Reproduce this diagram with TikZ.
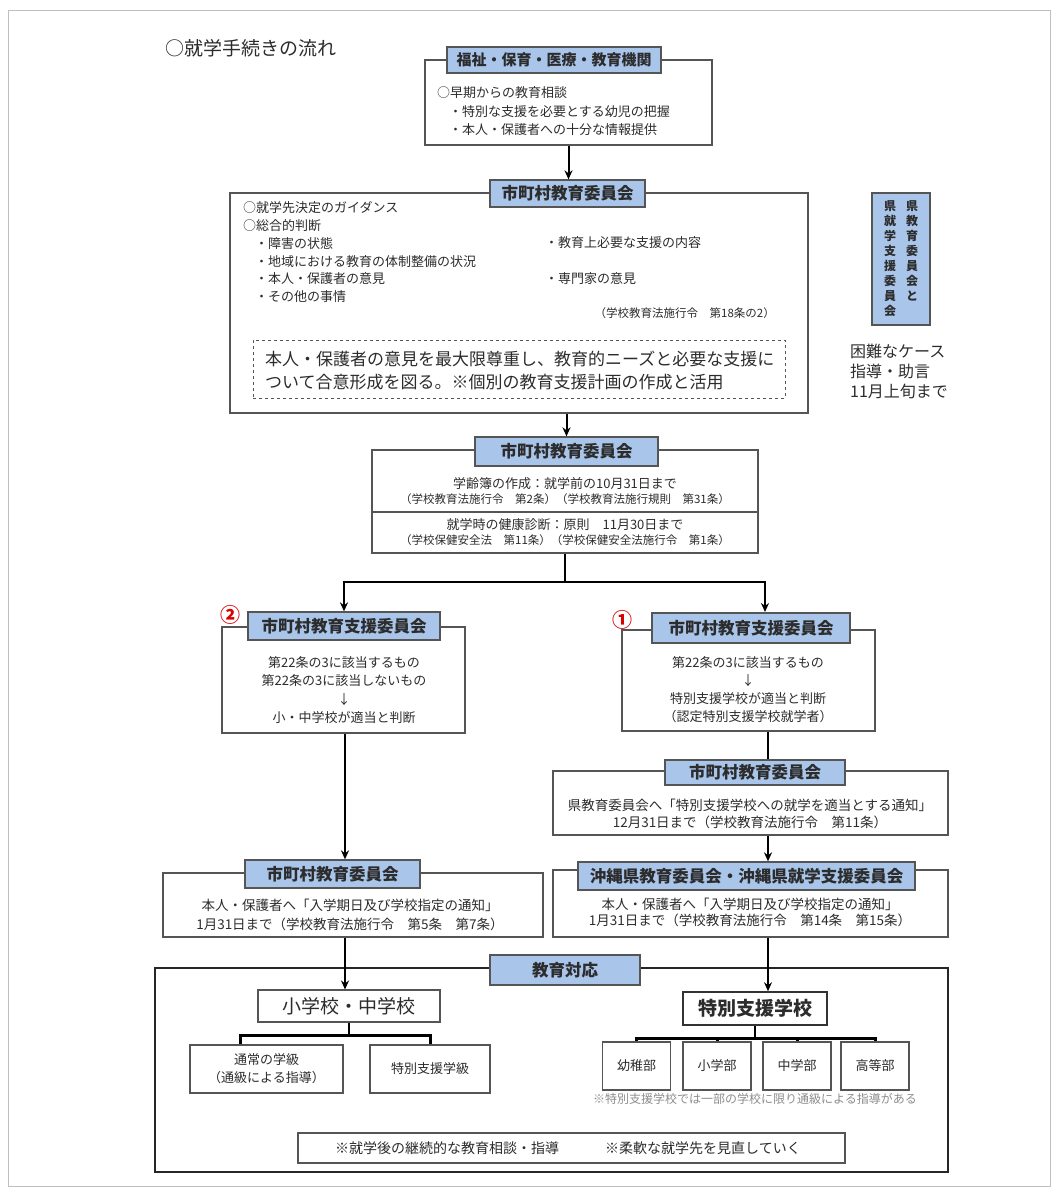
\documentclass[tikz,border=0pt]{standalone}
\usepackage{fontspec}
\setmainfont{Noto Sans CJK JP}
\usetikzlibrary{positioning,calc,arrows.meta}
\tikzset{>=stealth}
\definecolor{hdblue}{HTML}{A9C5EA}
\definecolor{ink}{HTML}{2C2C2C}
\definecolor{rim}{HTML}{555555}
\newcommand\jfs[2]{\fontsize{#1}{#2}\selectfont}
\tikzset{
  panel/.style={draw=rim,line width=1.1pt,fill=white,inner sep=0pt},
  hdr/.style={draw=rim,line width=1.3pt,fill=hdblue,inner sep=0pt,text=ink,font=\bfseries\jfs{16.5}{18}},
  unit/.style={draw=rim,line width=1.1pt,fill=white,inner sep=0pt,text=ink,align=center,font=\jfs{13}{18}},
  txt/.style={inner sep=0pt,text=ink,font=\jfs{13}{17}},
  law/.style={inner sep=0pt,text=ink,font=\jfs{11.5}{13}},
  arr/.style={-{Stealth[length=9pt,width=8pt]},line width=2pt},
  link/.style={line width=2pt},
  num/.style={inner sep=0pt,text=red!85!black,font=\bfseries\jfs{20}{20}},
}

\begin{document}
\begin{tikzpicture}[x=1pt,y=-1pt]
\useasboundingbox (0,0) rectangle (1057,1192);
\draw[black!25,line width=1pt] (8,10) rectangle (1050,1186);
\coordinate (colL) at (345,0);
\coordinate (colR) at (768,0);

% title
\node[txt,font=\jfs{19}{21},anchor=west] (ttl) at (165,48) {○就学手続きの流れ};

% early consultation
\node[panel,minimum width=287pt,minimum height=85pt] (p1) at (568.5,102.5) {};
\node[hdr,font=\bfseries\jfs{15}{17},minimum width=214pt,minimum height=26pt] (h1) at (554,60) {福祉・保育・医療・教育機関};
\node[txt,align=left,anchor=north west,font=\jfs{13}{18.5}] (t1) at (437,86.5)
  {○早期からの教育相談\\\hspace*{12pt}・特別な支援を必要とする幼児の把握\\\hspace*{12pt}・本人・保護者への十分な情報提供};

% guidance
\node[panel,minimum width=578pt,minimum height=220pt] (p2) at (519,303) {};
\node[hdr,minimum width=155pt,minimum height=27pt] (h2) at (567.5,193.5) {市町村教育委員会};
\node[txt,align=left,anchor=north west,font=\jfs{13}{17.8}] (t2a) at (243,201.5)
  {○就学先決定のガイダンス\\○総合的判断\\\hspace*{12pt}・障害の状態\\\hspace*{12pt}・地域における教育の体制整備の状況\\\hspace*{12pt}・本人・保護者の意見\\\hspace*{12pt}・その他の事情};
\node[txt,anchor=west] (t2b) at (545,243) {・教育上必要な支援の内容};
\node[txt,anchor=west] (t2c) at (545,279) {・専門家の意見};
\node[law,anchor=east] (t2d) at (775,313) {（学校教育法施行令　第18条の2）};
\node[panel,dashed,line width=1pt,minimum width=532pt,minimum height=58pt] (agree) at (519,369) {};
\node[txt,align=left,anchor=north west,font=\jfs{17}{23}] (t2e) at (265,350.5)
  {本人・保護者の意見を最大限尊重し、教育的ニーズと必要な支援に\\ついて合意形成を図る。※個別の教育支援計画の作成と活用};

% prefecture
\node[hdr,minimum width=58pt,minimum height=132pt] (pref) at (901,259) {};
\node[txt,align=center,anchor=north,font=\bfseries\jfs{12}{15}] (pref1) at (912,200) {県\\教\\育\\委\\員\\会\\と};
\node[txt,align=center,anchor=north,font=\bfseries\jfs{12}{15}] (pref2) at (890,200) {県\\就\\学\\支\\援\\委\\員\\会};
\node[txt,align=left,anchor=north west,font=\jfs{16}{20}] (hard) at (850,344) {困難なケース\\指導・助言\\11月上旬まで};

\draw[arr] (p1.south) -- (p1.south |- h2.north);

% school register
\node[panel,minimum width=386pt,minimum height=103pt] (p3) at (565,501.5) {};
\coordinate (cut) at (0,512);
\draw[rim,line width=1.1pt] (p3.west |- cut) -- (p3.east |- cut);
\node[hdr,minimum width=183pt,minimum height=29pt] (h3) at (566.5,451.5) {市町村教育委員会};
\node[txt] (t3a) at (565,484) {学齢簿の作成：就学前の10月31日まで};
\node[law] (t3b) at (565,499) {（学校教育法施行令　第2条）（学校教育法施行規則　第31条）};
\node[txt] (t3c) at (565,525) {就学時の健康診断：原則　11月30日まで};
\node[law] (t3d) at (565,540) {（学校保健安全法　第11条）（学校保健安全法施行令　第1条）};

\draw[arr] (h3.north |- p2.south) -- (h3.north);

% support committees
\node[panel,minimum width=243pt,minimum height=106pt] (p4l) at (343.5,680) {};
\node[hdr,minimum width=192pt,minimum height=28pt] (h4l) at (344,626) {市町村教育支援委員会};
\node[num] (n2) at (230,615) {②};
\node[txt,align=center,font=\jfs{13}{18.3}] (t4l) at (344,690)
  {第22条の3に該当するもの\\第22条の3に該当しないもの\\↓\\小・中学校が適当と判断};

\node[panel,minimum width=253pt,minimum height=101pt] (p4r) at (748.5,680.5) {};
\node[hdr,minimum width=198pt,minimum height=30pt] (h4r) at (751,628) {市町村教育支援委員会};
\node[num] (n1) at (622,620) {①};
\node[txt,align=center,font=\jfs{13}{18}] (t4r) at (748,690)
  {第22条の3に該当するもの\\↓\\特別支援学校が適当と判断\\（認定特別支援学校就学者）};

\coordinate (split) at (565,582);
\coordinate (inR) at (765,612);
\draw[link] (p3.south) -- (split);
\draw[arr] (split) -| (h4l.north);
\draw[arr] (split) -| (inR);

% notices (right)
\node[panel,minimum width=395pt,minimum height=64pt] (p5r) at (750.5,803) {};
\node[hdr,minimum width=180pt,minimum height=25pt] (h5r) at (755,772.5) {市町村教育委員会};
\node[txt,align=center,font=\jfs{13.5}{17}] (t5r) at (750,813.5)
  {県教育委員会へ「特別支援学校への就学を適当とする通知」\\12月31日まで（学校教育法施行令　第11条）};
\draw[link] (p4r.south -| colR) -- (h5r.north -| colR);

\node[panel,minimum width=395pt,minimum height=67pt] (p6r) at (750.5,903.5) {};
\node[hdr,minimum width=337pt,minimum height=28pt] (h6r) at (746.5,876) {沖縄県教育委員会・沖縄県就学支援委員会};
\node[txt,align=center,font=\jfs{13.5}{16.5}] (t6r) at (750,912.5)
  {本人・保護者へ「入学期日及び学校指定の通知」\\1月31日まで（学校教育法施行令　第14条　第15条）};
\draw[arr] (p5r.south -| colR) -- (h6r.north -| colR);

% notices (left)
\node[panel,minimum width=380pt,minimum height=64pt] (p6l) at (353,905) {};
\node[hdr,minimum width=175pt,minimum height=28pt] (h6l) at (332.5,874) {市町村教育委員会};
\node[txt,align=center,font=\jfs{13.5}{19}] (t6l) at (350,914.5)
  {本人・保護者へ「入学期日及び学校指定の通知」\\1月31日まで（学校教育法施行令　第5条　第7条）};
\draw[arr] (p4l.south -| colL) -- (h6l.north -| colL);

% education
\node[draw=black!85,line width=1.8pt,inner sep=0pt,minimum width=793pt,minimum height=204pt] (p7) at (551.5,1070) {};
\node[hdr,minimum width=150pt,minimum height=30pt] (h7) at (565,970) {教育対応};

\node[unit,font=\jfs{19}{20},minimum width=182pt,minimum height=32pt] (sch1) at (349,1006) {小学校・中学校};
\node[unit,minimum width=153pt,minimum height=48pt] (cls1) at (266.5,1069) {通常の学級\\（通級による指導）};
\node[unit,minimum width=120pt,minimum height=48pt] (cls2) at (430,1069) {特別支援学級};
\coordinate (forkL) at (349,1035);
\draw[link] (sch1.south) -- (forkL);
\draw[link,line width=3pt] ($(cls1.north)+(-26,0)$) |- (forkL) -| (cls2.north);

\node[unit,draw=black!80,line width=1.6pt,font=\bfseries\jfs{19}{20},minimum width=144pt,minimum height=33pt] (sch2) at (755,1008.5) {特別支援学校};
\foreach \n/\x/\t in {d1/636.5/幼稚部,d2/717/小学部,d3/797/中学部,d4/875/高等部}
  \node[unit,minimum width=68pt,minimum height=48pt] (\n) at (\x,1066) {\t};
\coordinate (forkR) at (755,1038);
\draw[link] (sch2.south) -- (forkR);
\draw[link,line width=3pt] (d1.north) |- (forkR) -| (d4.north);
\foreach \n in {d2,d3}
  \draw[link,line width=3pt] (\n.north) -- (\n.north |- forkR);
\node[law,text=black!45,font=\jfs{12}{13}] (dnote) at (755,1099) {※特別支援学校では一部の学校に限り通級による指導がある};

\draw[arr] (p6l.south -| colL) -- (sch1.north -| colL);
\draw[arr] (p6r.south -| colR) -- (sch2.north -| colR);

% after entry
\node[panel,minimum width=547pt,minimum height=30pt] (after) at (571.5,1148) {};
\node[txt,font=\jfs{14}{16},anchor=west] (aft1) at (335,1148) {※就学後の継続的な教育相談・指導};
\node[txt,font=\jfs{14}{16},anchor=west] (aft2) at (605,1148) {※柔軟な就学先を見直していく};
\end{tikzpicture}
\end{document}
